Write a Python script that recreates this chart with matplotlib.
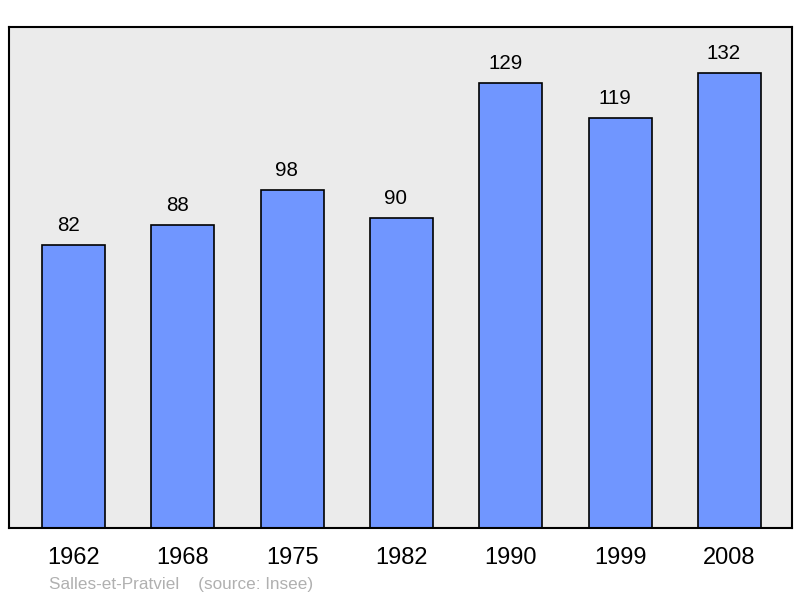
import matplotlib.pyplot as plt

plt.rcParams['font.family'] = ['Liberation Sans', 'DejaVu Sans']

years = ['1962', '1968', '1975', '1982', '1990', '1999', '2008']
population = [82, 88, 98, 90, 129, 119, 132]

fig = plt.figure(figsize=(8, 5.98), dpi=100)
ax = fig.add_axes([9 / 800, 70 / 598, 783 / 800, 501 / 598])
ax.set_facecolor('#ebebeb')

x = range(len(years))
ax.bar(x, population, width=0.576, color='#7096ff', edgecolor='black', linewidth=1.2, zorder=2)

for i, v in enumerate(population):
    ax.annotate(str(v), (i, v), xytext=(-5.5, 10), textcoords='offset pixels',
                ha='center', va='bottom', fontsize=14.8)

ax.set_xlim(-0.59, 6.572)
ax.set_ylim(0, 145.3)
ax.set_xticks(list(x))
ax.set_xticklabels(years, fontsize=17)
ax.tick_params(axis='x', length=0, pad=14)
ax.set_yticks([])
for s in ax.spines.values():
    s.set_linewidth(1.5)

fig.text(49 / 800, 1 - 584 / 598, 'Salles-et-Pratviel    (source: Insee)',
         color='#b0b0b0', fontsize=12.3, va='center', ha='left')

plt.savefig('out.png', dpi=100)
